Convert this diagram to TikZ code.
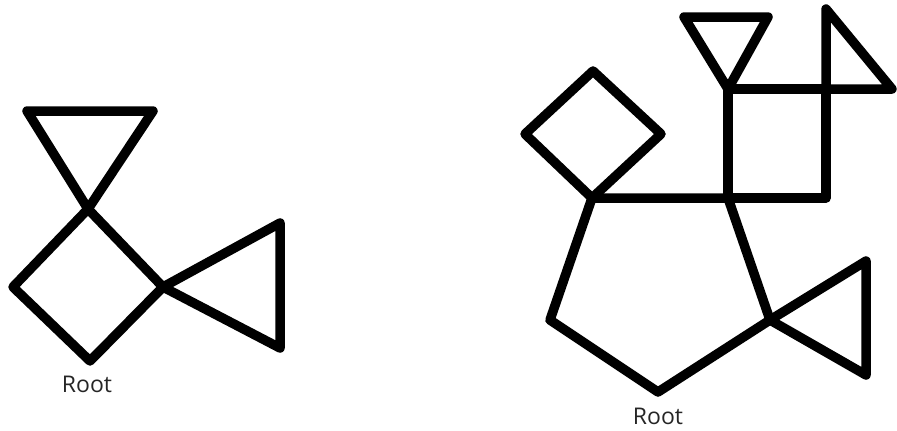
\documentclass[tikz,border=0pt]{standalone}
\usepackage{fontspec}
\setmainfont{Open Sans}
\begin{document}
\begin{tikzpicture}[x=1pt, y=-1pt, line width=9.5pt, line join=round, line cap=round,
    outline/.style={draw=black},
    rootlabel/.style={text=black!85, font=\fontsize{23}{26}\selectfont, inner sep=0pt}]
    \useasboundingbox (0,0) rectangle (897,431);

    % left tree
    \coordinate (rL) at (90,361);
    \coordinate (dLl) at (13,287);
    \coordinate (dLt) at (88,209);
    \coordinate (dLr) at (163,287);
    \coordinate (tAl) at (27,111);
    \coordinate (tAr) at (153,111);
    \coordinate (tBt) at (280,223);
    \coordinate (tBb) at (280,348);

    \draw[outline] (rL) -- (dLl) -- (dLt) -- (dLr) -- cycle;
    \draw[outline] (dLt) -- (tAl) -- (tAr) -- cycle;
    \draw[outline] (dLr) -- (tBt) -- (tBb) -- cycle;
    \node[rootlabel] (rootL) at (87,384) {Root};

    % right tree
    \coordinate (rR) at (658,392);
    \coordinate (pLl) at (550,320);
    \coordinate (pLu) at (592,198);
    \coordinate (pRu) at (728,198);
    \coordinate (pRl) at (770,320);
    \coordinate (dRl) at (525,134);
    \coordinate (dRt) at (593,71);
    \coordinate (dRr) at (661,134);
    \coordinate (sqTl) at (728,89);
    \coordinate (sqTr) at (826,89);
    \coordinate (sqBr) at (826,198);
    \coordinate (tCl) at (684,17);
    \coordinate (tCr) at (768,17);
    \coordinate (tDt) at (826,9);
    \coordinate (tDr) at (892,89);
    \coordinate (tEt) at (866,261);
    \coordinate (tEb) at (866,375);

    \draw[outline] (rR) -- (pLl) -- (pLu) -- (pRu) -- (pRl) -- cycle;
    \draw[outline] (pLu) -- (dRl) -- (dRt) -- (dRr) -- cycle;
    \draw[outline] (pRu) -- (sqTl) -- (sqTr) -- (sqBr) -- cycle;
    \draw[outline] (sqTl) -- (tCl) -- (tCr) -- cycle;
    \draw[outline] (sqTr) -- (tDt) -- (tDr) -- cycle;
    \draw[outline] (pRl) -- (tEt) -- (tEb) -- cycle;
    \node[rootlabel] (rootR) at (658,416) {Root};
\end{tikzpicture}
\end{document}
